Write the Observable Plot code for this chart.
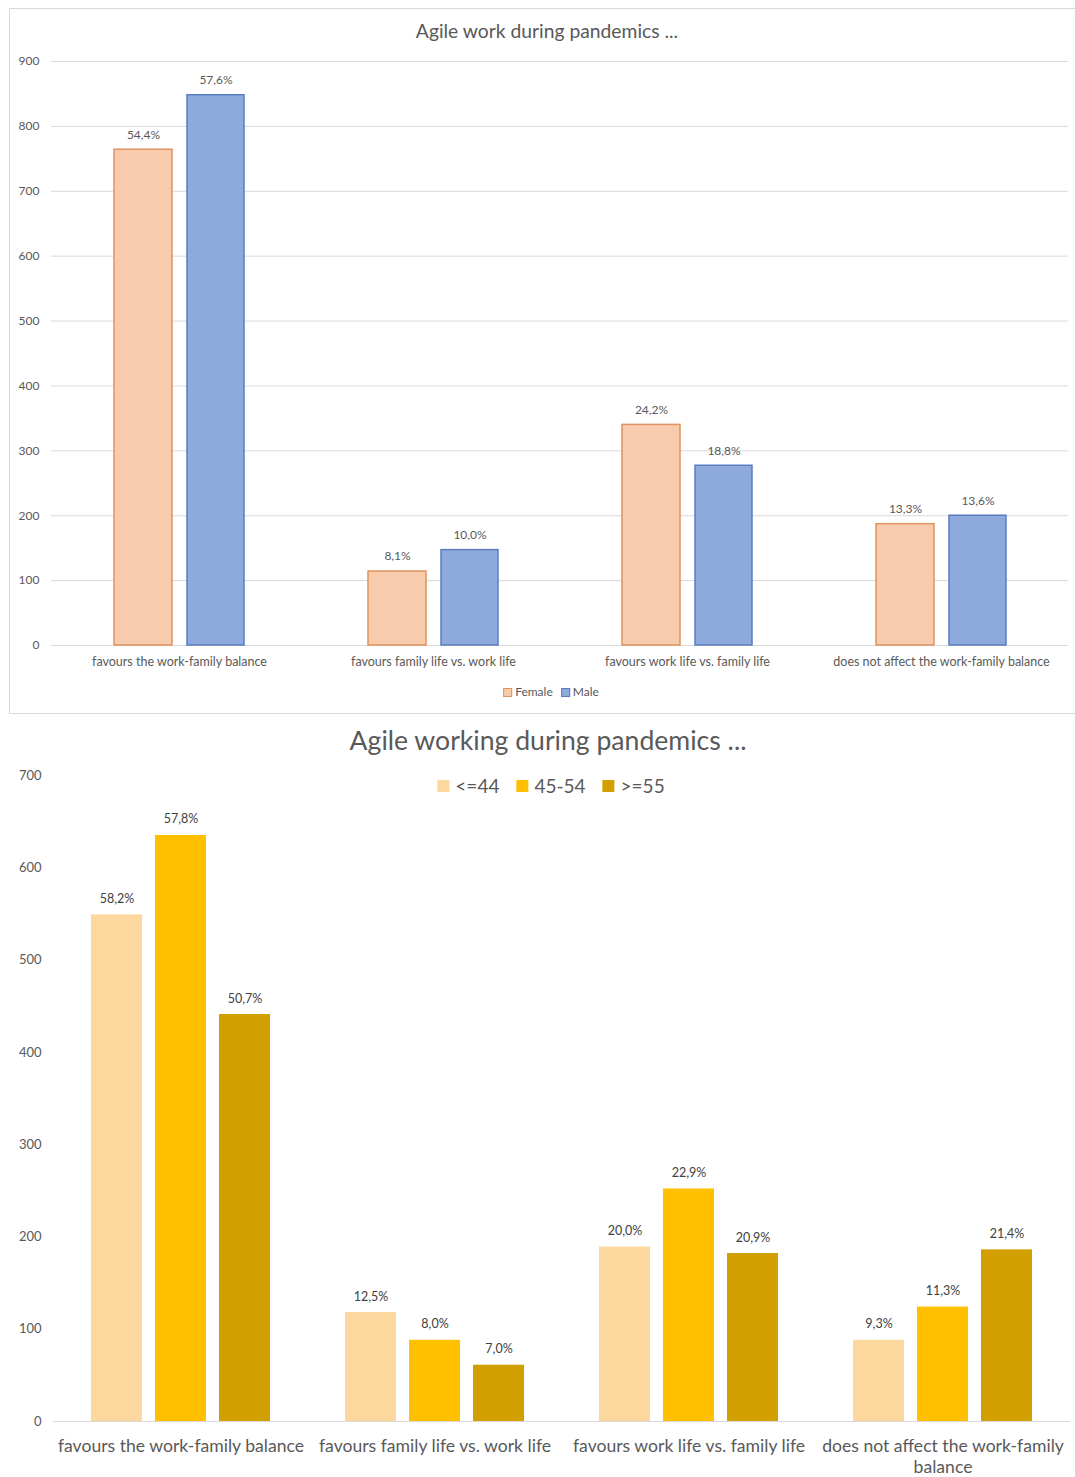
<!DOCTYPE html>
<html>
<head>
<meta charset="utf-8">
<script src="https://cdn.jsdelivr.net/npm/d3@7"></script>
<script src="https://cdn.jsdelivr.net/npm/@observablehq/plot@0.6"></script>
<style>
  body { margin: 0; background: #fff; font-family: Lato, "Open Sans", sans-serif; color: #595959; }
  #page { position: relative; width: 1075px; height: 1477px; overflow: hidden; background: #fff; }
  .abs { position: absolute; }
  #box { left: 9px; top: 8px; width: 1085px; height: 706px; border: 1px solid #d9d9d9; box-sizing: border-box; }
  .center { transform: translateX(-50%); white-space: nowrap; }
  #title1 { left: 547px; top: 19px; font-size: 19.3px; line-height: 24px; color: #595959; }
  #title2 { left: 548px; top: 723px; font-size: 26.6px; line-height: 34px; color: #595959; }
  .legend { display: flex; align-items: center; }
  .legend .item { display: flex; align-items: center; }
  #legend1 { left: 551px; top: 684px; font-size: 12px; line-height: 16px; color: #595959; }
  #legend1 .sw { width: 7px; height: 7px; border: 1px solid; margin-right: 3px; }
  #legend1 .item + .item { margin-left: 8px; }
  #legend2 { left: 551px; top: 774px; font-size: 19px; line-height: 24px; color: #595959; }
  #legend2 .sw { width: 12px; height: 12px; margin-right: 6px; }
  #legend2 .item + .item { margin-left: 17px; }
  svg { display: block; }
</style>
</head>
<body>
<div id="page">
  <div id="box" class="abs"></div>
  <div id="title1" class="abs center">Agile work during pandemics ...</div>
  <div id="chart1" class="abs" style="left:0;top:40px;"></div>
  <div id="legend1" class="abs center legend"></div>
  <div id="title2" class="abs center">Agile working during pandemics ...</div>
  <div id="legend2" class="abs center legend"></div>
  <div id="chart2" class="abs" style="left:0;top:765px;"></div>
</div>
<script>
// Answer categories shared by both charts
const categories = [
  "favours the work-family balance",
  "favours family life vs. work life",
  "favours work life vs. family life",
  "does not affect the work-family balance"
];

// Respondents by gender (counts per category)
const genders = ["Female", "Male"];
const femaleCounts = [764, 114, 340, 187];
const maleCounts = [848, 147, 277, 200];
const genderTicks = [0, 100, 200, 300, 400, 500, 600, 700, 800, 900];

// Respondents by age group (counts per category)
const ageGroups = ["<=44", "45-54", ">=55"];
const ageUpTo44Counts = [549, 118, 189, 88];
const age45to54Counts = [635, 88, 252, 124];
const age55PlusCounts = [441, 61, 182, 186];
const ageTicks = [0, 100, 200, 300, 400, 500, 600, 700];

// Long table: one row per category and series, with the share of that series' total
function tableOf(seriesNames, seriesCounts) {
  const rows = [];
  seriesNames.forEach((s, i) => {
    const counts = seriesCounts[i];
    const total = d3.sum(counts);
    categories.forEach((c, j) => rows.push({category: c, series: s, value: counts[j], share: counts[j] / total}));
  });
  return rows;
}
const pct = (v) => (v * 100).toFixed(1).replace(".", ",") + "%";

const genderRows = tableOf(genders, [femaleCounts, maleCounts]);
const ageRows = tableOf(ageGroups, [ageUpTo44Counts, age45to54Counts, age55PlusCounts]);

// ---------- Chart 1: by gender ----------
const genderStyle = {
  Female: {fill: "#f8cbad", stroke: "#de9360", insetLeft: 0, insetRight: 72, dx: -36},
  Male:   {fill: "#8eaadc", stroke: "#5a7dc0", insetLeft: 73, insetRight: 0, dx: 36.5}
};

const chart1 = Plot.plot({
  width: 1075,
  height: 640,
  marginLeft: 51,
  marginRight: 7,
  marginTop: 21,
  marginBottom: 35,
  style: {fontFamily: "Lato, sans-serif", color: "#595959", background: "transparent", overflow: "visible"},
  x: {domain: categories, paddingInner: 0.489, paddingOuter: 0.2445},
  y: {domain: [0, 900]},
  marks: [
    Plot.ruleY(genderTicks, {stroke: "#d9d9d9", strokeWidth: 1}),
    ...genders.flatMap((g) => {
      const s = genderStyle[g];
      const rows = genderRows.filter((d) => d.series === g);
      return [
        Plot.barY(rows, {x: "category", y: "value", fill: s.fill, stroke: s.stroke, strokeWidth: 1.5,
          insetLeft: s.insetLeft, insetRight: s.insetRight}),
        Plot.text(rows, {x: "category", y: "value", text: (d) => pct(d.share), dx: s.dx, dy: -15,
          fontSize: 12, fill: "#595959"})
      ];
    }),
    Plot.axisY(genderTicks, {tickSize: 0, tickPadding: 12, fontSize: 12, label: null, fill: "#595959"}),
    Plot.axisX({tickSize: 0, tickPadding: 12, fontSize: 12.5, label: null, fill: "#595959"})
  ]
});
document.getElementById("chart1").appendChild(chart1);

document.getElementById("legend1").innerHTML = genders.map((g) =>
  `<span class="item"><span class="sw" style="background:${genderStyle[g].fill};border-color:${genderStyle[g].stroke}"></span>${g}</span>`
).join("");

// ---------- Chart 2: by age group ----------
const ageColors = {"<=44": "#fdd89e", "45-54": "#ffc000", ">=55": "#d19f00"};
const ageSlots = {"<=44": 0, "45-54": 1, ">=55": 2};
const barW = 51, barStep = 64, groupW = 179;

// wrap a category name onto lines no wider than the band step
const labelFont = 17.6;
const measure = document.createElement("canvas").getContext("2d");
measure.font = `${labelFont}px Lato`;
function wrap(text, maxWidth) {
  const words = text.split(" ");
  const lines = [];
  let line = "";
  for (const w of words) {
    const test = line ? line + " " + w : w;
    if (line && measure.measureText(test).width > maxWidth) { lines.push(line); line = w; }
    else line = test;
  }
  lines.push(line);
  return lines.join("\n");
}

const chart2 = Plot.plot({
  width: 1075,
  height: 712,
  marginLeft: 53,
  marginRight: 5,
  marginTop: 10,
  marginBottom: 56,
  style: {fontFamily: "Lato, sans-serif", color: "#595959", background: "transparent", overflow: "visible"},
  x: {domain: categories, paddingInner: 0.296, paddingOuter: 0.148},
  y: {domain: [0, 700]},
  marks: [
    ...ageGroups.flatMap((a) => {
      const k = ageSlots[a];
      const rows = ageRows.filter((d) => d.series === a);
      return [
        Plot.barY(rows, {x: "category", y: "value", fill: ageColors[a],
          insetLeft: k * barStep, insetRight: groupW - k * barStep - barW}),
        Plot.text(rows, {x: "category", y: "value", text: (d) => pct(d.share), dx: (k - 1) * barStep, dy: -16,
          fontSize: 12.5, fill: "#404040"})
      ];
    }),
    Plot.ruleY([0], {stroke: "#d9d9d9", strokeWidth: 1.2}),
    Plot.axisY(ageTicks, {tickSize: 0, tickPadding: 12, fontSize: 13, label: null, fill: "#595959"}),
    Plot.axisX({tickSize: 0, tickPadding: 15, fontSize: labelFont, lineHeight: 1.2, label: null, fill: "#595959",
      tickFormat: (d) => wrap(d, 254)})
  ]
});
document.getElementById("chart2").appendChild(chart2);

document.getElementById("legend2").innerHTML = ageGroups.map((a) =>
  `<span class="item"><span class="sw" style="background:${ageColors[a]}"></span>${a}</span>`
).join("");
</script>
</body>
</html>
